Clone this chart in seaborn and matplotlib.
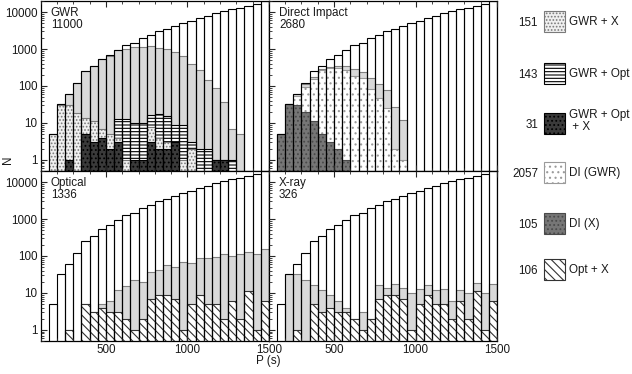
import numpy as np
import seaborn as sns
import matplotlib.pyplot as plt
from matplotlib.patches import Rectangle
from matplotlib.ticker import (FixedLocator, FuncFormatter, LogLocator,
                               NullFormatter, MultipleLocator)

sns.set_style("ticks")
plt.rcParams["font.family"] = ["Liberation Sans", "DejaVu Sans"]
plt.rcParams["hatch.linewidth"] = 0.8

# period bins (s), 50 s wide
edges = list(range(150, 1501, 50))
centers = [e + 25 for e in edges[:-1]]

# whole population per bin (white outline, same in every panel)
total = [5, 33, 60, 120, 255, 340, 540, 680, 970, 1270, 1500, 2000, 2430, 3080,
         3600, 4340, 5230, 5920, 6870, 8090, 9400, 10400, 11800, 13300, 15100,
         17100, 19400]

# GWR panel
gwr = [5, 33, 60, 120, 255, 340, 540, 660, 940, 1000, 1130, 1170, 1220, 1080,
       1000, 825, 630, 400, 263, 141, 87, 38, 7, 5, 0, 0, 0]
gwr_opt = [0, 0, 0, 0, 0, 0, 0, 0, 13, 13, 10, 10, 16, 17, 15, 9, 9, 3, 2, 2,
           1, 1, 1, 0, 0, 0, 0]
gwr_x = [5, 30, 31, 19, 14, 11, 7, 5, 4, 1, 0, 0, 8, 4, 3, 0, 1, 2, 0, 0,
         0, 0, 0, 0, 0, 0, 0]
gwr_opt_x = [0, 0, 1, 0, 5, 3, 4, 2, 3, 0, 1, 1, 3, 2, 2, 3, 0, 0, 0, 0,
             1, 1, 0, 0, 0, 0, 0]

# Direct impact panel
di = [5, 33, 60, 115, 170, 290, 320, 340, 345, 285, 245, 162, 114, 76, 27, 12,
      0, 0, 0, 0, 0, 0, 0, 0, 0, 0, 0]
di_gwr = [0, 0, 55, 95, 150, 270, 300, 300, 275, 183, 160, 82, 47, 25, 2, 1,
          0, 0, 0, 0, 0, 0, 0, 0, 0, 0, 0]
di_x = [5, 32, 30, 20, 11, 5, 3, 2, 1, 0, 0, 0, 0, 0, 0, 0,
        0, 0, 0, 0, 0, 0, 0, 0, 0, 0, 0]

# Optical and X-ray panels
opt = [0, 0, 1, 0, 5, 3, 5, 6, 12, 15, 23, 20, 38, 42, 56, 50, 68, 63, 90, 91,
       95, 112, 100, 112, 130, 112, 158]
xray = [0, 33, 33, 22, 16, 12, 9, 6, 4, 2, 3, 2, 16, 14, 17, 14, 10, 13, 16,
        12, 13, 6, 12, 10, 19, 10, 18]
opt_x = [0, 0, 1, 0, 5, 3, 4, 3, 3, 2, 1, 2, 7, 9, 9, 7, 1, 5, 9, 5, 5, 2, 6,
         2, 11, 1, 6]

panel_names = ["GWR\n11000", "Direct Impact\n2680", "Optical\n1336", "X-ray\n326"]
legend_counts = ["151", "143", "31", "2057", "105", "106"]
legend_labels = ["GWR + X", "GWR + Opt", "GWR + Opt\n + X", "DI (GWR)",
                 "DI (X)", "Opt + X"]

STYLE = {
    "total": dict(facecolor="white", edgecolor="none"),
    "cat": dict(facecolor="#d9d9d9", edgecolor="#808080"),
    "gwr_x": dict(facecolor="#f0f0f0", edgecolor="#7a7a7a", hatch="....."),
    "gwr_opt": dict(facecolor="white", edgecolor="black", hatch="-----"),
    "gwr_opt_x": dict(facecolor="#3a3a3a", edgecolor="black", hatch="...."),
    "di_gwr": dict(facecolor="white", edgecolor="#9a9a9a", hatch="..."),
    "di_x": dict(facecolor="#767676", edgecolor="#4a4a4a", hatch="...."),
    "opt_x": dict(facecolor="white", edgecolor="#333333", hatch="\\\\\\\\"),
}
TXT = "#1a1a1a"
FS = 8.4


def hist(ax, vals, **kw):
    n0 = len(ax.patches)
    sns.histplot(x=centers, weights=vals, bins=edges, ax=ax, linewidth=0.8, **kw)
    for p in ax.patches[n0:]:
        if p.get_height() <= 0:
            p.set_visible(False)


fig = plt.figure(figsize=(6.32, 3.74), dpi=100)
W, H = 228.2 / 632, 170 / 374
pos = [(40.7 / 632, 203 / 374), (268.9 / 632, 203 / 374),
       (40.7 / 632, 33 / 374), (268.9 / 632, 33 / 374)]

layers = [
    [(gwr, "cat"), (gwr_opt, "gwr_opt"), (gwr_x, "gwr_x"), (gwr_opt_x, "gwr_opt_x")],
    [(di, "cat"), (di_gwr, "di_gwr"), (di_x, "di_x")],
    [(opt, "cat"), (opt_x, "opt_x")],
    [(xray, "cat"), (opt_x, "opt_x")],
]

for i in range(4):
    ax = fig.add_axes([pos[i][0], pos[i][1], W, H])
    ax.set_yscale("log")
    hist(ax, total, **STYLE["total"])
    for vals, st in layers[i]:
        hist(ax, vals, **STYLE[st])
    hist(ax, total, fill=False, color="black")

    ax.set_xlim(100, 1500)
    ax.set_ylim(0.5, 20000)
    ax.set_xlabel("")
    ax.set_ylabel("")
    ax.set_axisbelow(False)
    ax.xaxis.set_major_locator(FixedLocator([500, 1000, 1500]))
    ax.xaxis.set_minor_locator(MultipleLocator(100))
    ax.yaxis.set_major_locator(FixedLocator([1, 10, 100, 1000, 10000]))
    ax.yaxis.set_minor_locator(LogLocator(base=10, subs=np.arange(2, 10) * 1.0,
                                          numticks=20))
    ax.yaxis.set_major_formatter(FuncFormatter(lambda v, p: f"{v:g}"))
    ax.yaxis.set_minor_formatter(NullFormatter())
    ax.tick_params(which="both", direction="in", top=True, right=False,
                   labelsize=FS, labelcolor=TXT, pad=2.5)
    ax.tick_params(which="major", length=4, width=0.8)
    ax.tick_params(which="minor", length=2.5, width=0.6)
    ax.tick_params(labelbottom=(i >= 2), labelleft=(i % 2 == 0))
    for s in ax.spines.values():
        s.set_linewidth(0.9)
        s.set_color("black")
    ax.annotate(panel_names[i], xy=(0, 1), xycoords="axes fraction",
                xytext=(7.3, -4.3), textcoords="offset points", ha="left",
                va="top", fontsize=FS, linespacing=1.0, color=TXT)

fig.text(268 / 632, 1 - 361 / 374, "P (s)", ha="center", va="center",
         fontsize=FS, color=TXT)
fig.text(8 / 632, 1 - 160 / 374, "N", rotation=90, ha="center", va="center",
         fontsize=FS, color=TXT)

# legend on the right
lax = fig.add_axes([0, 0, 1, 1], facecolor="none")
lax.set_xlim(0, 632)
lax.set_ylim(374, 0)
lax.axis("off")
row_y = [21, 73, 123, 172, 223, 269]
legend_styles = ["gwr_x", "gwr_opt", "gwr_opt_x", "di_gwr", "di_x", "opt_x"]
for y, cnt, lab, st in zip(row_y, legend_counts, legend_labels, legend_styles):
    lax.add_patch(Rectangle((544, y - 10.5), 21, 21, linewidth=0.8, **STYLE[st]))
    lax.text(538, y + 1.5, cnt, ha="right", va="center", fontsize=FS, color=TXT)
    lax.text(569, y + (-2 if "\n" in lab else 0.5), lab, ha="left",
             va="center", fontsize=FS, color=TXT, linespacing=0.95)

fig.savefig("out.png", dpi=100)
